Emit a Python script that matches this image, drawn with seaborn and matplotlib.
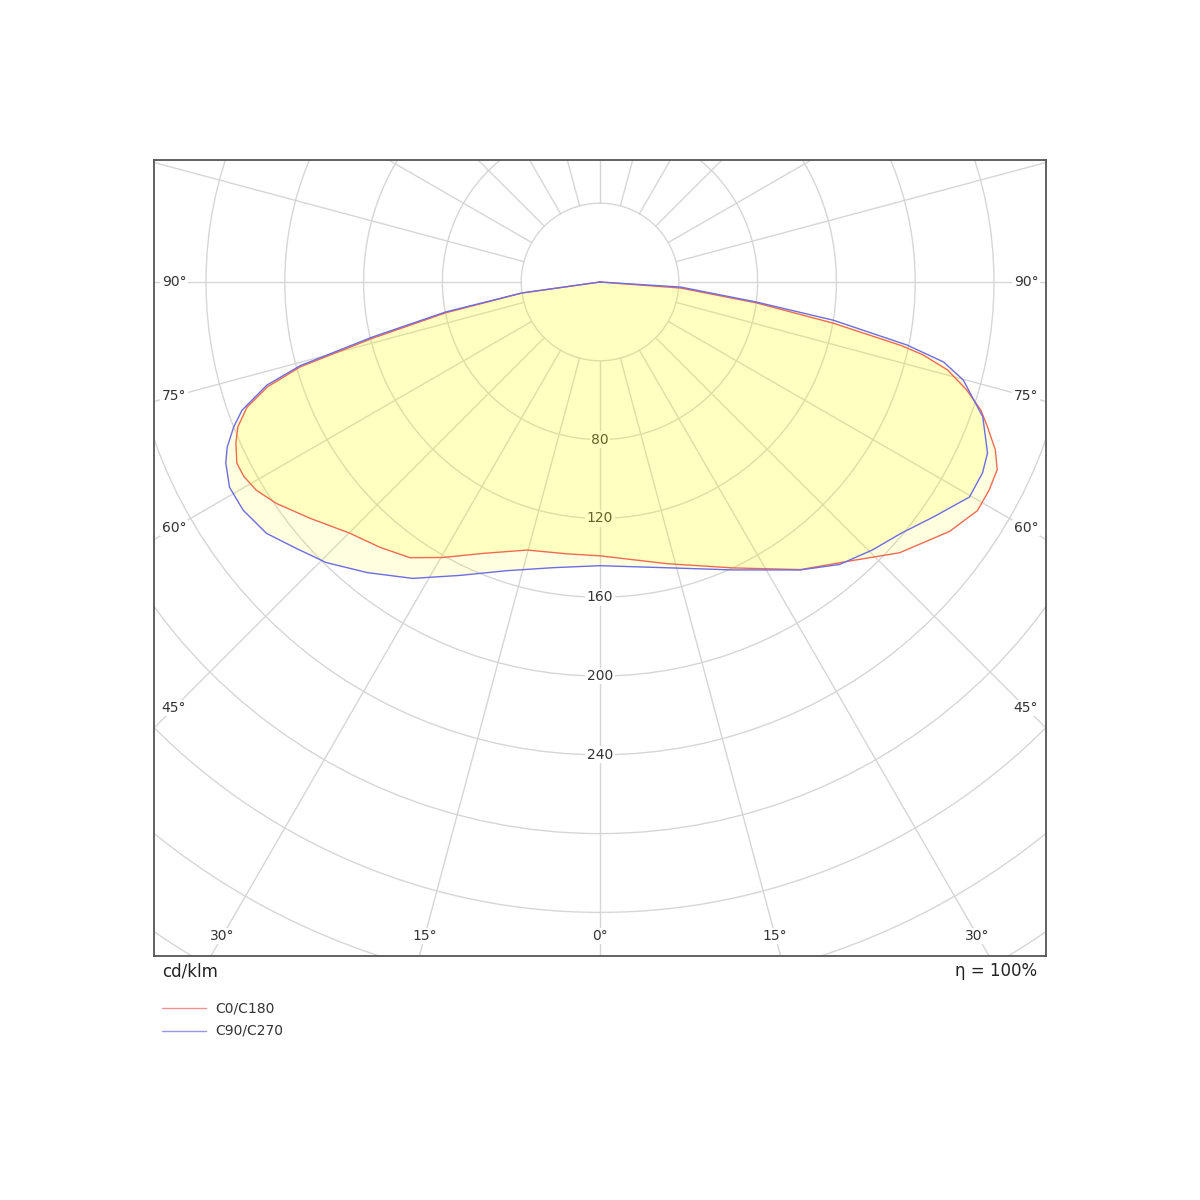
import numpy as np
import matplotlib
matplotlib.use("Agg")
import matplotlib.pyplot as plt
import seaborn as sns
from matplotlib.patches import Circle, Polygon
from matplotlib.lines import Line2D

# luminous intensity (cd/klm), gamma in degrees from nadir
gamma_c0 = [0, 13.4, 24.9, 34.9, 41.8, 47.9, 54.5, 58.8, 61.9, 64.7, 67.0, 69.5, 71.4, 73.6, 75.8, 77.3, 78.1, 80.0, 82.4, 85.7, 90]
i_c0 = [139, 147, 160, 178, 190, 205, 218, 224, 224, 223, 218, 210, 204, 194, 182, 168, 156, 120, 80, 41, 0]

gamma_c180 = [0, 6.9, 15.2, 23.3, 29.7, 34.6, 39.7, 44.9, 50.9, 55.6, 58.8, 61.4, 63.5, 66.2, 68.2, 70.5, 72.5, 74.2, 76.1, 78.7, 82.0, 90]
i_c180 = [139, 139, 141, 150, 161, 170, 175, 180, 190, 199, 204, 206, 206, 202, 198, 190, 177, 158, 119, 80, 40, 0]

gamma_c90 = [0, 13.2, 24.8, 34.8, 40.3, 45.5, 50.1, 54.8, 59.8, 63.5, 66.2, 70.6, 74.9, 76.9, 78.4, 80.7, 82.7, 86.4, 90]
i_c90 = [144, 149, 161, 178, 188, 194, 199, 207, 217, 217, 215, 206, 191, 179, 159, 120, 80, 41, 0]

gamma_c270 = [0, 9.4, 17.9, 25.5, 32.3, 38.7, 44.3, 48.7, 53.0, 57.4, 61.0, 64.2, 66.1, 68.4, 70.3, 72.8, 74.4, 76.4, 79.0, 82.0, 90]
i_c270 = [144, 147, 154, 165, 178, 189, 199, 205, 212, 215, 215, 211, 207, 200, 193, 177, 158, 119, 80, 40, 0]

ring_labels = [80, 120, 160, 200, 240]
side_angles = [90, 75, 60, 45]
bottom_angles = [-30, -15, 0, 15, 30]

GRID = "#d6d6d6"
RED = "#f06a50"
BLUE = "#6c6ce4"
PX = 1.97  # pixels per cd/klm


def to_xy(g_left, i_left, g_right, i_right):
    """Left half runs 90 -> 0, right half 0 -> 90; y points down from the lamp."""
    gl = np.radians(g_left[::-1])
    il = np.array(i_left[::-1], dtype=float)
    gr = np.radians(g_right)
    ir = np.array(i_right, dtype=float)
    x = np.concatenate([-il * np.sin(gl), ir * np.sin(gr)])
    y = np.concatenate([-il * np.cos(gl), -ir * np.cos(gr)])
    return x, y


sns.set_theme(style="white")
plt.rcParams["font.family"] = ["DejaVu Sans"]

fig = plt.figure(figsize=(12, 12), dpi=100)
ax = fig.add_axes([154 / 1200, 244 / 1200, 892 / 1200, 796 / 1200])
ax.set_xlim(-446 / PX, 446 / PX)
ax.set_ylim(-674 / PX, 122 / PX)

# polar grid
for r in range(40, 480, 40):
    ax.add_patch(Circle((0, 0), r, fill=False, ec=GRID, lw=1.0, zorder=1))
for a in range(0, 360, 15):
    t = np.radians(a)
    ax.plot([40 * np.sin(t), 700 * np.sin(t)], [-40 * np.cos(t), -700 * np.cos(t)],
            color=GRID, lw=1.0, zorder=1)

box = dict(boxstyle="square,pad=0.1", fc="white", ec="none")
for r in ring_labels:
    ax.text(0, -r, str(r), ha="center", va="center", fontsize=10, color="#333333", bbox=box, zorder=2)

xs = 426 / PX
for g in side_angles:
    t = np.radians(g)
    yy = -xs * np.cos(t) / np.sin(t)
    for sgn in (-1, 1):
        ax.text(sgn * xs, yy, f"{g}°", ha="center", va="center", fontsize=10, color="#333333", bbox=box, zorder=2)
yb = -654 / PX
for g in bottom_angles:
    ax.text(-yb * np.tan(np.radians(g)), yb, f"{abs(g)}°", ha="center", va="center",
            fontsize=10, color="#333333", bbox=box, zorder=2)

# curves
x_red, y_red = to_xy(gamma_c180, i_c180, gamma_c0, i_c0)
x_blue, y_blue = to_xy(gamma_c270, i_c270, gamma_c90, i_c90)

ax.fill(x_red, y_red, color=(1, 1, 0), alpha=0.12, lw=0, zorder=3)
ax.fill(x_blue, y_blue, color=(1, 1, 0), alpha=0.12, lw=0, zorder=3)
blue_patch = Polygon(np.column_stack([x_blue, y_blue]), closed=True, transform=ax.transData)
overlap = ax.fill(x_red, y_red, color=(1, 1, 0), alpha=0.02, lw=0, zorder=3)[0]
overlap.set_clip_path(blue_patch)

sns.lineplot(x=np.append(x_red, x_red[0]), y=np.append(y_red, y_red[0]), sort=False,
             estimator=None, color=RED, lw=1.0, ax=ax, zorder=4)
sns.lineplot(x=np.append(x_blue, x_blue[0]), y=np.append(y_blue, y_blue[0]), sort=False,
             estimator=None, color=BLUE, lw=1.0, ax=ax, zorder=4)

ax.set_xticks([])
ax.set_yticks([])
ax.set_xlabel("")
ax.set_ylabel("")
for sp in ax.spines.values():
    sp.set_visible(True)
    sp.set_color("#555555")
    sp.set_linewidth(1.3)

fig.text(162 / 1200, 1 - 971 / 1200, "cd/klm", ha="left", va="center", fontsize=12, color="#222222")
fig.text(1037 / 1200, 1 - 971 / 1200, "η = 100%", ha="right", va="center", fontsize=12, color="#222222")

for yy, col, lab in [(1008, "#f29090", "C0/C180"), (1031, "#9696ee", "C90/C270")]:
    fig.add_artist(Line2D([162 / 1200, 206 / 1200], [1 - yy / 1200, 1 - yy / 1200], color=col, lw=1.0))
    fig.text(215 / 1200, 1 - yy / 1200, lab, ha="left", va="center", fontsize=10, color="#333333")

fig.savefig("out.png", dpi=100, facecolor="white")
